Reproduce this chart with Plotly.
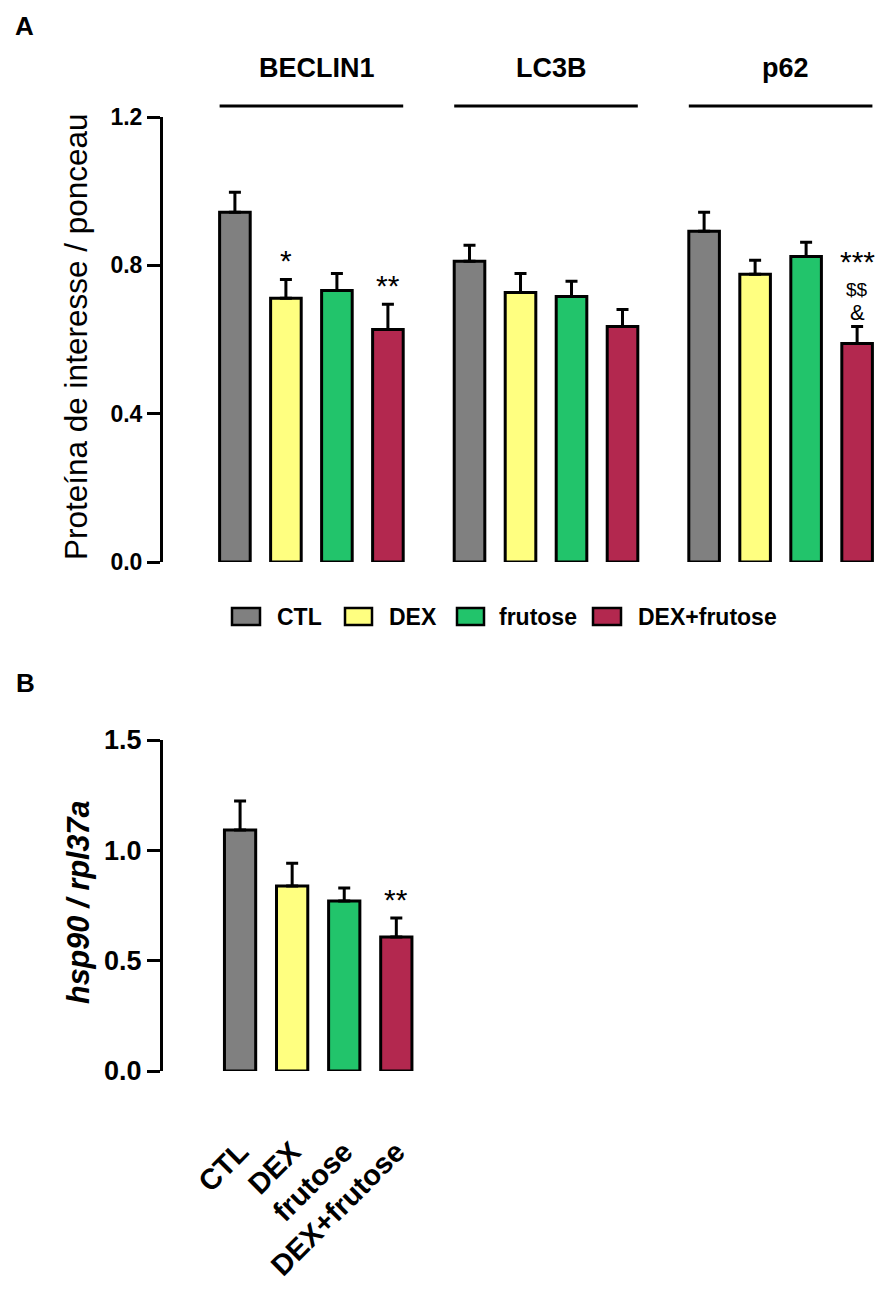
import plotly.graph_objects as go

# ---------------- data ----------------
proteins = ["BECLIN1", "LC3B", "p62"]
groups = ["CTL", "DEX", "frutose", "DEX+frutose"]
colors = ["#808080", "#FFFF80", "#22C46B", "#B3284F"]

# Panel A: protein / ponceau (mean, SEM) per group, in order of proteins
A_CTL = [0.943, 0.811, 0.892]
A_DEX = [0.711, 0.727, 0.776]
A_FRU = [0.732, 0.716, 0.824]
A_DF = [0.627, 0.635, 0.589]
A_CTL_err = [0.054, 0.043, 0.051]
A_DEX_err = [0.051, 0.051, 0.038]
A_FRU_err = [0.046, 0.041, 0.038]
A_DF_err = [0.068, 0.046, 0.046]
A_means = [A_CTL, A_DEX, A_FRU, A_DF]
A_errs = [A_CTL_err, A_DEX_err, A_FRU_err, A_DF_err]
A_ticks = [0.0, 0.4, 0.8, 1.2]

# significance marks panel A: (protein, group, [lines bottom->top])
A_sig = [("BECLIN1", "DEX", ["*"]),
         ("BECLIN1", "DEX+frutose", ["**"]),
         ("p62", "DEX+frutose", ["&", "$$", "***"])]

# Panel B: hsp90 / rpl37a
B_means = [1.092, 0.838, 0.770, 0.607]
B_errs = [0.131, 0.104, 0.059, 0.086]
B_ticks = [0.0, 0.5, 1.0, 1.5]
B_sig = [("DEX+frutose", "**")]

# ---------------- layout helpers ----------------
W, H = 877, 1289
def PX(px): return px / W
def PY(py): return 1 - py / H

FONT = "Liberation Sans, Arial, sans-serif"
GROUP_STEP = 4.6
BAR_W = 0.6

fig = go.Figure()

# Panel A bars
for gi, g in enumerate(groups):
    xs = [pi * GROUP_STEP + gi for pi in range(len(proteins))]
    fig.add_trace(go.Bar(
        x=xs, y=A_means[gi], width=BAR_W, name=g,
        marker=dict(color=colors[gi], line=dict(color="black", width=3)),
        error_y=dict(type="data", symmetric=False, array=A_errs[gi],
                     arrayminus=[0] * len(proteins), color="black",
                     thickness=3, width=6),
        xaxis="x", yaxis="y", showlegend=False, hoverinfo="skip"))

# Panel B bars
for gi, g in enumerate(groups):
    fig.add_trace(go.Bar(
        x=[gi], y=[B_means[gi]], width=BAR_W, name=g,
        marker=dict(color=colors[gi], line=dict(color="black", width=3)),
        error_y=dict(type="data", symmetric=False, array=[B_errs[gi]],
                     arrayminus=[0], color="black", thickness=3, width=6),
        xaxis="x2", yaxis="y2", showlegend=False, hoverinfo="skip"))

annotations = []
shapes = []

def ann(**kw):
    d = dict(showarrow=False, xanchor="center", yanchor="middle")
    d.update(kw)
    annotations.append(d)

# panel letters
ann(text="A", x=PX(24), y=PY(26), xref="paper", yref="paper",
    font=dict(size=26, family=FONT, color="black", weight="bold"))
ann(text="B", x=PX(25), y=PY(683), xref="paper", yref="paper",
    font=dict(size=26, family=FONT, color="black", weight="bold"))

# Protein headers + lines
for pi, p in enumerate(proteins):
    x0 = pi * GROUP_STEP - 0.3
    x1 = pi * GROUP_STEP + 3.3
    shapes.append(dict(type="line", xref="x", yref="paper", x0=x0, x1=x1,
                       y0=PY(106), y1=PY(106), line=dict(color="black", width=3)))
    ann(text=p, x=pi * GROUP_STEP + 1.6, y=PY(68), xref="x", yref="paper",
        font=dict(size=27, family=FONT, color="black", weight="bold"))

# y titles
ann(text="Proteína de interesse / ponceau", x=PX(76), y=PY(337),
    xref="paper", yref="paper", textangle=-90,
    font=dict(size=31.5, family=FONT, color="black"))
ann(text="<i>hsp90 / rpl37a</i>", x=PX(78), y=PY(903),
    xref="paper", yref="paper", textangle=-90,
    font=dict(size=30.5, family=FONT, color="black", weight="bold"))

# significance marks panel A
sig_font = {"*": 30, "**": 30, "***": 30, "$$": 19, "&": 22}
sig_step = {"*": 0, "**": 0, "***": 0, "$$": 22, "&": 25}
for p, g, lines in A_sig:
    pi, gi = proteins.index(p), groups.index(g)
    top = A_means[gi][pi] + A_errs[gi][pi]
    shift = 0
    for ln in lines:
        ann(text=ln, x=pi * GROUP_STEP + gi, y=top, xref="x", yref="y",
            yanchor="bottom", yshift=shift,
            font=dict(size=sig_font[ln], family=FONT, color="black"))
        shift += sig_step[ln]
for g, s in B_sig:
    gi = groups.index(g)
    ann(text=s, x=gi, y=B_means[gi] + B_errs[gi], xref="x2", yref="y2",
        yanchor="bottom", yshift=0,
        font=dict(size=30, family=FONT, color="black"))

# manual legend
leg_sw = [(232, 260), (345, 372), (457, 484), (593, 621)]
leg_tx = [275, 387, 497, 636]
for gi, g in enumerate(groups):
    a, b = leg_sw[gi]
    shapes.append(dict(type="rect", xref="paper", yref="paper", x0=PX(a), x1=PX(b),
                       y0=PY(625), y1=PY(608), fillcolor=colors[gi],
                       line=dict(color="black", width=2.5)))
    ann(text=g, x=PX(leg_tx[gi]), y=PY(617), xref="paper", yref="paper",
        xanchor="left",
        font=dict(size=23, family=FONT, color="black", weight="bold"))

tick_a = dict(size=23, family=FONT, color="black", weight="bold")
tick_b = dict(size=27, family=FONT, color="black", weight="bold")

fig.update_layout(
    width=W, height=H, margin=dict(l=0, r=0, t=0, b=0, pad=0, autoexpand=False),
    paper_bgcolor="white", plot_bgcolor="white", barmode="overlay",
    font=dict(family=FONT, color="black"),
    xaxis=dict(domain=[PX(163), 1.0], range=[-1.41, 12.59], showgrid=False,
               zeroline=False, showline=False, showticklabels=False, ticks=""),
    yaxis=dict(domain=[PY(562), PY(117)], range=[0, 1.2], tickvals=A_ticks,
               tickformat=".1f", showgrid=False, zeroline=False, showline=True,
               linecolor="black", linewidth=3, ticks="outside", ticklen=13,
               tickwidth=3, tickcolor="black", tickfont=tick_a, anchor="x"),
    xaxis2=dict(domain=[PX(163), 0.5], range=[-1.48, 3.81], showgrid=False,
                zeroline=False, showline=False, ticks="", tickvals=list(range(len(groups))),
                ticktext=groups, tickangle=-45, ticklabelstandoff=57,
                tickfont=dict(size=29, family=FONT, color="black", weight="bold"),
                anchor="y2"),
    yaxis2=dict(domain=[PY(1071), PY(740)], range=[0, 1.5], tickvals=B_ticks,
                tickformat=".1f", showgrid=False, zeroline=False, showline=True,
                linecolor="black", linewidth=3, ticks="outside", ticklen=13,
                tickwidth=3, tickcolor="black", tickfont=tick_b, anchor="x2"),
    annotations=annotations, shapes=shapes,
)

fig.write_html("out.html", config={"displayModeBar": False},
               post_script="document.body.style.margin='0';document.body.style.overflow='hidden';")
